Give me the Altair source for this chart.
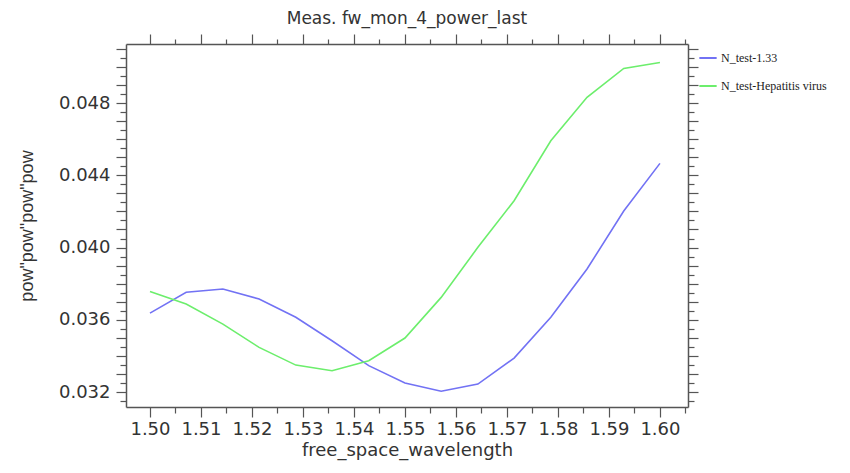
import altair as alt
import pandas as pd

# wavelength sample points
wavelength = [1.5000, 1.5071, 1.5143, 1.5214, 1.5286, 1.5357, 1.5429, 1.5500,
              1.5571, 1.5643, 1.5714, 1.5786, 1.5857, 1.5929, 1.6000]
series_names = ["N_test-1.33", "N_test-Hepatitis virus"]
power_133 = [0.03637, 0.03752, 0.03770, 0.03715, 0.03614, 0.03484, 0.03346, 0.03250,
             0.03204, 0.03244, 0.03388, 0.03614, 0.03881, 0.04202, 0.04466]
power_hep = [0.03757, 0.03687, 0.03576, 0.03447, 0.03349, 0.03318, 0.03373, 0.03499,
             0.03724, 0.04001, 0.04259, 0.04591, 0.04832, 0.04992, 0.05025]
colors = ["#7272f4", "#6cee6c"]

x_major = [1.50, 1.51, 1.52, 1.53, 1.54, 1.55, 1.56, 1.57, 1.58, 1.59, 1.60]
x_minor = [1.505, 1.515, 1.525, 1.535, 1.545, 1.555, 1.565, 1.575, 1.585, 1.595, 1.605]
y_major = [0.032, 0.033, 0.034, 0.035, 0.036, 0.037, 0.038, 0.039, 0.040, 0.041,
           0.042, 0.043, 0.044, 0.045, 0.046, 0.047, 0.048, 0.049, 0.050, 0.051]
y_minor = [0.0315, 0.0325, 0.0335, 0.0345, 0.0355, 0.0365, 0.0375, 0.0385, 0.0395,
           0.0405, 0.0415, 0.0425, 0.0435, 0.0445, 0.0455, 0.0465, 0.0475, 0.0485,
           0.0495, 0.0505]
x_domain = [1.4953, 1.6055]
y_domain = [0.03117, 0.05127]

rows = []
for name, vals in zip(series_names, [power_133, power_hep]):
    for w, v in zip(wavelength, vals):
        rows.append({"wavelength": w, "power": v, "series": name})
df = pd.DataFrame(rows)

FONT = "DejaVu Sans"
AX = "#555555"
TXT = "#333333"

xs = alt.Scale(domain=x_domain, nice=False, zero=False)
ys = alt.Scale(domain=y_domain, nice=False, zero=False)


def tick_axis(orient, values, size, domain=True, **kw):
    return alt.Axis(orient=orient, values=values, tickSize=size, labels=False,
                    title=None, grid=False, domain=domain, domainColor=AX,
                    domainWidth=1.5, tickColor=AX, tickWidth=1.2, **kw)


base = alt.Chart(df)

lines = base.mark_line(strokeWidth=1.6).encode(
    x=alt.X("wavelength:Q", scale=xs,
            axis=alt.Axis(orient="bottom", values=x_major, format=".2f",
                          tickSize=10, tickColor=AX, tickWidth=1.2,
                          domainColor=AX, domainWidth=1.5, grid=False,
                          labelFont=FONT, labelFontSize=18, labelColor=TXT,
                          labelPadding=3, title="free_space_wavelength",
                          titleFont=FONT, titleFontSize=18,
                          titleFontWeight="normal", titleColor=TXT,
                          titlePadding=3)),
    y=alt.Y("power:Q", scale=ys,
            axis=alt.Axis(orient="left", values=y_major,
                          labelExpr="round(datum.value*1000) % 4 == 0 ? format(datum.value, '.3f') : ''",
                          tickSize=10, tickColor=AX, tickWidth=1.2,
                          domainColor=AX, domainWidth=1.5, grid=False,
                          labelFont=FONT, labelFontSize=18, labelColor=TXT,
                          labelPadding=6, title='pow"pow"pow"pow',
                          titleFont="Liberation Sans", titleFontSize=18,
                          titleFontWeight="normal", titleColor=TXT,
                          titlePadding=22)),
    color=alt.Color("series:N",
                    scale=alt.Scale(domain=series_names, range=colors),
                    legend=alt.Legend(orient="none", legendX=572, legendY=4,
                                      title=None, symbolType="stroke",
                                      symbolStrokeWidth=2, symbolSize=300,
                                      labelFont="Liberation Serif",
                                      labelFontSize=12, labelColor="#222222",
                                      labelOffset=3,
                                      labelLimit=200, rowPadding=12)),
)

minor1 = base.mark_line(opacity=0).encode(
    x=alt.X("wavelength:Q", scale=xs, axis=tick_axis("bottom", x_minor, 6, domain=False)),
    y=alt.Y("power:Q", scale=ys, axis=tick_axis("left", y_minor, 6, domain=False)),
    detail="series:N",
)

major2 = base.mark_line(opacity=0).encode(
    x=alt.X("wavelength:Q", scale=xs, axis=tick_axis("top", x_major, 10)),
    y=alt.Y("power:Q", scale=ys, axis=tick_axis("right", y_major, 10)),
    detail="series:N",
)

minor2 = base.mark_line(opacity=0).encode(
    x=alt.X("wavelength:Q", scale=xs, axis=tick_axis("top", x_minor, 5, domain=False)),
    y=alt.Y("power:Q", scale=ys, axis=tick_axis("right", y_minor, 6, domain=False)),
    detail="series:N",
)

chart = alt.layer(lines, minor1, major2, minor2).resolve_axis(
    x="independent", y="independent"
).properties(
    width=562,
    height=363,
    title=alt.TitleParams("Meas. fw_mon_4_power_last", font=FONT, fontSize=17,
                          fontWeight="normal", color=TXT, offset=5),
    autosize=alt.AutoSizeParams(type="none"),
    padding={"left": 118, "top": 36, "right": 152, "bottom": 58},
).configure_view(stroke=None)

chart.save("out.html", embed_options={"renderer": "svg", "actions": False})
